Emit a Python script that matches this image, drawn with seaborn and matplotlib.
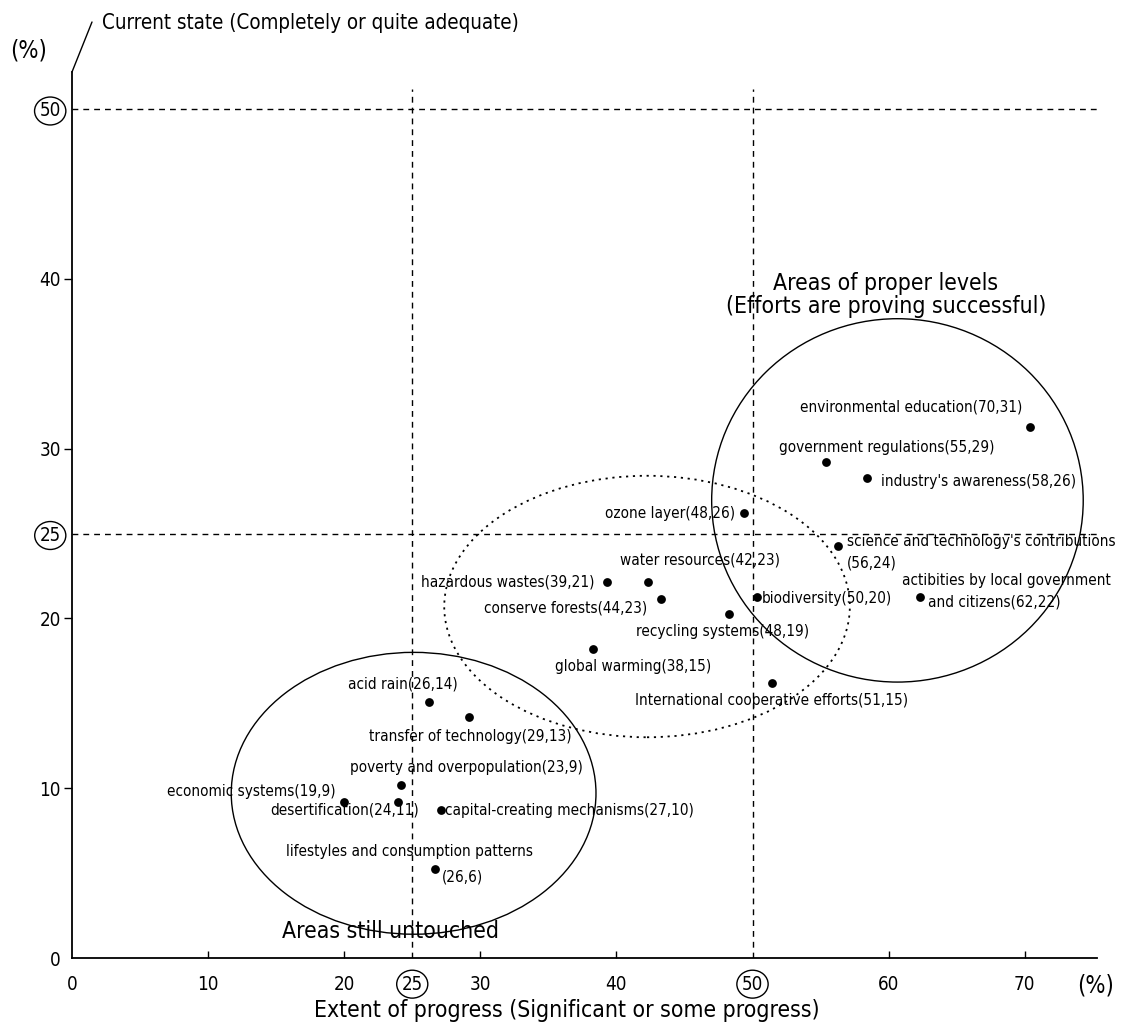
import matplotlib
matplotlib.use("Agg")
import matplotlib.pyplot as plt
from matplotlib.patches import Ellipse
import seaborn as sns
import pandas as pd

# ---------------- data ----------------
labels = [
    "environmental education(70,31)",
    "government regulations(55,29)",
    "industry's awareness(58,26)",
    "ozone layer(48,26)",
    "science and technology's contributions\n(56,24)",
    "actibities by local government\nand citizens(62,22)",
    "water resources(42,23)",
    "hazardous wastes(39,21)",
    "conserve forests(44,23)",
    "biodiversity(50,20)",
    "recycling systems(48,19)",
    "global warming(38,15)",
    "International cooperative efforts(51,15)",
    "acid rain(26,14)",
    "transfer of technology(29,13)",
    "poverty and overpopulation(23,9)",
    "economic systems(19,9)",
    "desertification(24,11)",
    "capital-creating mechanisms(27,10)",
    "lifestyles and consumption patterns\n(26,6)",
]
progress = [70.4, 55.4, 58.4, 49.4, 56.3, 62.3, 42.3, 39.3, 43.3, 50.3,
            48.3, 38.3, 51.4, 26.2, 29.2, 24.2, 20.0, 23.95, 27.1, 26.7]
current = [31.3, 29.2, 28.25, 26.2, 24.25, 21.25, 22.15, 22.15, 21.15, 21.25,
           20.25, 18.2, 16.2, 15.1, 14.2, 10.2, 9.2, 9.2, 8.7, 5.25]

# grouping ellipses (center x, center y, width, height)
region_cx = [60.65, 42.25, 25.1]
region_cy = [26.95, 20.7, 9.7]
region_w = [27.3, 29.8, 26.8]
region_h = [21.4, 15.4, 16.6]
region_dotted = [False, True, False]

x_ticks = [0, 10, 20, 25, 30, 40, 50, 60, 70]
y_ticks = [0, 10, 20, 25, 30, 40, 50]
circled = [25, 50]

title_y = "Current state (Completely or quite adequate)"
title_x = "Extent of progress (Significant or some progress)"
region_text_1 = "Areas of proper levels\n(Efforts are proving successful)"
region_text_2 = "Areas still untouched"

# ---------------- style (label placement in pixels: dx, dy, ha per line) ----------------
label_layout = [
    [(-8, 20, "right")],
    [(61, 15, "center")],
    [(14, -3, "left")],
    [(-9, 0, "right")],
    [(9, 5, "left"), (9, -17, "left")],
    [(87, 17, "center"), (8, -5, "left")],
    [(52, 22, "center")],
    [(-12, 0, "right")],
    [(-14, -9, "right")],
    [(5, -1, "left")],
    [(-7, -17, "center")],
    [(40, -18, "center")],
    [(0, -18, "center")],
    [(-26, 18, "center")],
    [(1, -20, "center")],
    [(65, 17, "center")],
    [(-9, 10, "right")],
    [(-53, -8, "center")],
    [(4, 0, "left")],
    [(-26, 17, "center"), (6, -8, "left")],
]

sns.set_style("white")
plt.rcParams["font.family"] = ["DejaVu Sans"]
plt.rcParams["font.stretch"] = "condensed"

LABEL_FS = 11
BIG_FS = 16.5
TITLE_FS = 14.8
TICK_FS = 13.5
PCT_FS = 17

fig = plt.figure(figsize=(11.21, 10.24), dpi=100)
ax = fig.add_axes([72 / 1121, 66 / 1024, 1025 / 1121, 886 / 1024])
ax.set_xlim(0, 1025 / 13.61)
ax.set_ylim(0, 886 / 16.98)

df = pd.DataFrame({"progress": progress, "current": current, "label": labels})
sns.scatterplot(data=df, x="progress", y="current", color="black", s=40,
                edgecolor="black", linewidth=0, ax=ax, legend=False, zorder=5)

# reference lines
dash = (0, (4.2, 3.6))
for v in circled:
    ax.vlines(v, 0, 51.2, colors="black", linewidth=1.0, linestyles=[dash], zorder=2)
    ax.axhline(v, color="black", linewidth=1.0, linestyle=dash, zorder=2)

# grouping ellipses
for cx, cy, w, h, dotted in zip(region_cx, region_cy, region_w, region_h, region_dotted):
    ax.add_patch(Ellipse((cx, cy), w, h, fill=False, edgecolor="black",
                         linewidth=1.0 if not dotted else 1.3,
                         linestyle=(0, (1.2, 2.6)) if dotted else "-", zorder=3))

# point labels
for lab, xv, yv, lay in zip(labels, progress, current, label_layout):
    for line, (dx, dy, ha) in zip(lab.split("\n"), lay):
        ax.annotate(line, (xv, yv), xytext=(dx, dy), textcoords="offset pixels",
                    ha=ha, va="center", fontsize=LABEL_FS, color="black", zorder=6)

# region texts
ax.text(59.8, 39.07, region_text_1, ha="center", va="center", fontsize=BIG_FS,
        linespacing=1.0, color="black")
ax.text(23.4, 1.55, region_text_2, ha="center", va="center", fontsize=BIG_FS,
        color="black")

# axes / spines
sns.despine(ax=ax, top=True, right=True)
for s in ("left", "bottom"):
    ax.spines[s].set_color("black")
    ax.spines[s].set_linewidth(1.3)

ax.set_xticks(x_ticks)
ax.set_xticklabels([str(t) for t in x_ticks])
ax.set_yticks(y_ticks)
ax.set_yticklabels([str(t) for t in y_ticks])
ax.tick_params(axis="x", direction="in", length=5, width=1, pad=12,
               labelsize=TICK_FS, colors="black", bottom=True)
ax.tick_params(axis="y", direction="out", length=6, width=1, pad=2,
               labelsize=TICK_FS, colors="black", left=True)

for tick, val in zip(ax.xaxis.get_major_ticks(), x_ticks):
    if val in circled or val == 0:
        tick.tick1line.set_visible(False)
for tick, val in zip(ax.yaxis.get_major_ticks(), y_ticks):
    if val in circled or val == 0:
        tick.tick1line.set_visible(False)
for lab in ax.get_xticklabels() + ax.get_yticklabels():
    if lab.get_text() in [str(c) for c in circled]:
        lab.set_bbox(dict(boxstyle="ellipse,pad=0.02", fc="none", ec="black", lw=1.0))

ax.set_xlabel("")
ax.set_ylabel("")
fig.text(567 / 1121, 1 - 1010 / 1024, title_x, ha="center", va="center",
         fontsize=BIG_FS, color="black")
ax.text(75.2, -1.6, "(%)", ha="center", va="center", fontsize=PCT_FS,
        color="black", clip_on=False)
ax.text(-3.2, 53.45, "(%)", ha="center", va="center", fontsize=PCT_FS,
        color="black", clip_on=False)

# leader line from the y-axis top to its title, then the title
ax.annotate("", xy=(0, 1), xycoords="axes fraction", xytext=(20, 50),
            textcoords="offset pixels",
            arrowprops=dict(arrowstyle="-", color="black", lw=1.0,
                            shrinkA=0, shrinkB=0))
ax.annotate(title_y, xy=(0, 1), xycoords="axes fraction", xytext=(30, 49),
            textcoords="offset pixels", ha="left", va="center",
            fontsize=TITLE_FS, color="black")

fig.savefig("out.png", dpi=100, facecolor="white")
